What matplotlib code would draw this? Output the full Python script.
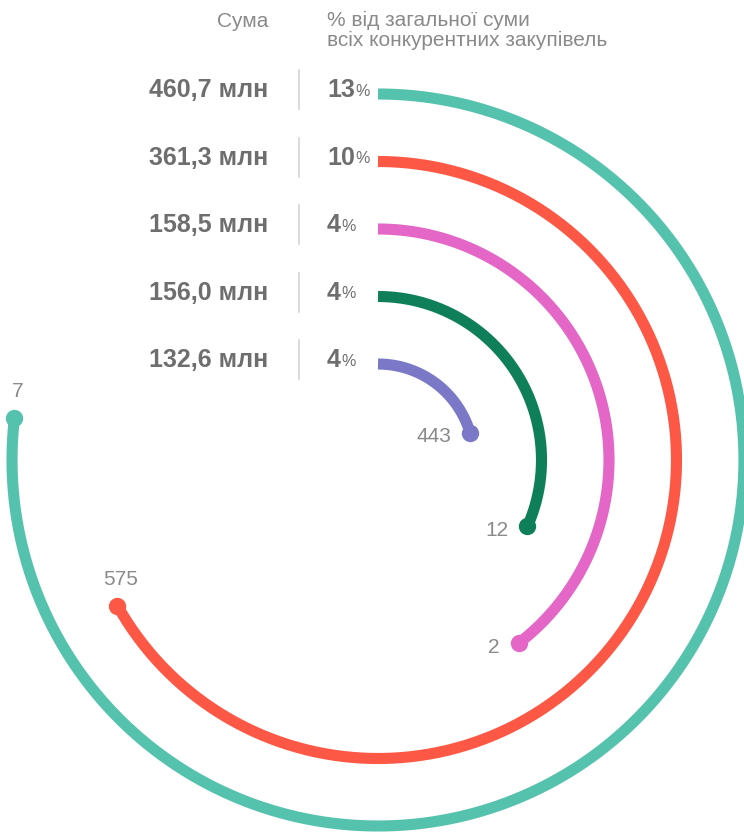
import matplotlib.pyplot as plt
import numpy as np

# Дані по кожному рядку
sums = ['460,7 млн', '361,3 млн', '158,5 млн', '156,0 млн', '132,6 млн']
shares = ['13', '10', '4', '4', '4']
end_labels = ['7', '575', '2', '12', '443']
arc_deg = [276.6, 240.8, 142.4, 113.9, 73.4]  # довжина дуги, градуси
colors = ['#55c2ad', '#fc5845', '#e466c6', '#0f7f5a', '#7b78c8']

W, H = 744, 834
cx, cy = 378, 460        # центр кіл
r_outer, r_step = 366, 67.5

fig = plt.figure(figsize=(W / 100, H / 100), dpi=100)
ax = fig.add_axes([0, 0, 1, 1])
ax.set_xlim(0, W)
ax.set_ylim(H, 0)
ax.axis('off')

dark = '#6e6e6e'
light = '#8a8a8a'
font = ['Liberation Sans', 'DejaVu Sans']

# Заголовки
ax.text(268, 21, 'Сума', ha='right', va='center', fontsize=15,
        color=light, family=font)
ax.text(327, 11, '% від загальної суми\nвсіх конкурентних закупівель',
        ha='left', va='top', fontsize=15, color=light, family=font,
        linespacing=1.03)

for i in range(len(sums)):
    r = r_outer - i * r_step
    th = np.radians(np.linspace(0, arc_deg[i], 400))
    x = cx + r * np.sin(th)
    y = cy - r * np.cos(th)
    ax.plot(x, y, color=colors[i], lw=8, solid_capstyle='butt')
    ax.plot(x[-1], y[-1], 'o', color=colors[i], ms=12.5, mec='none')

    # підпис на кінці дуги
    if x[-1] < cx:
        ax.text(x[-1] + 3, y[-1] - 17, end_labels[i], ha='center', va='bottom',
                fontsize=15, color=light, family=font)
    else:
        ax.text(x[-1] - 19, y[-1] + 4, end_labels[i], ha='right', va='center',
                fontsize=15, color=light, family=font)

    # рядок зліва: сума | частка
    ty = cy - r - 4
    ax.text(268, ty, sums[i], ha='right', va='center', fontsize=18,
            fontweight='bold', color=dark, family=font)
    ax.plot([298.5, 298.5], [ty - 20, ty + 19], color='#d4d4d4', lw=1.2)
    t = ax.text(327, ty, shares[i], ha='left', va='center', fontsize=18,
                fontweight='bold', color=dark, family=font)
    ax.annotate('%', xy=(1, 0), xycoords=t, xytext=(0, 2.5),
                textcoords='offset points', ha='left', va='bottom',
                fontsize=11.5, color=dark, family=font)

fig.savefig('out.png', dpi=100)
